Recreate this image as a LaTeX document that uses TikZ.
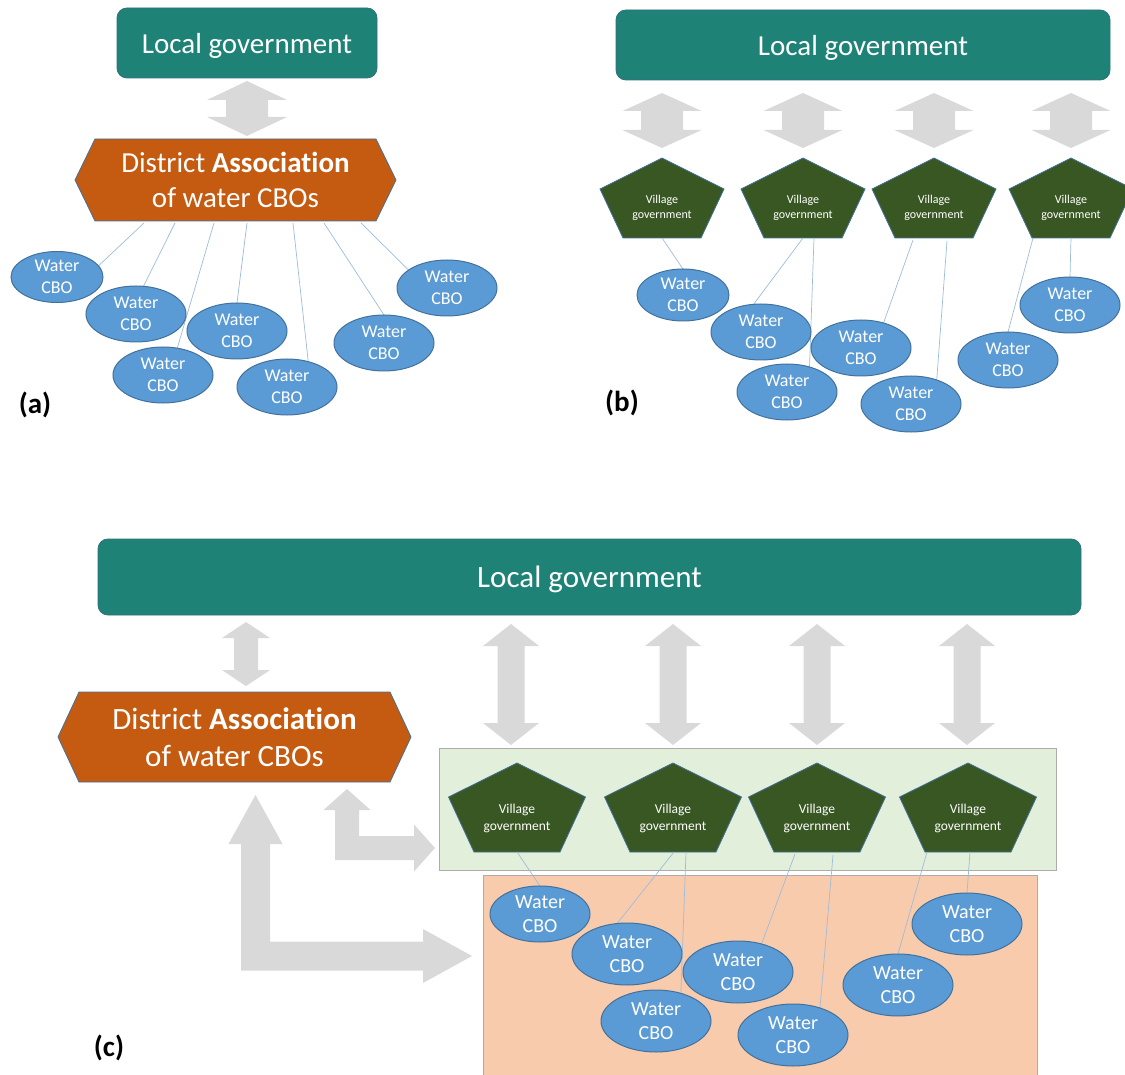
\documentclass[tikz,border=0pt]{standalone}
\usepackage{fontspec}
\setmainfont{Carlito}[Ligatures=NoCommon]
\usetikzlibrary{calc,shapes.geometric}

\pgfdeclarelayer{back}
\pgfdeclarelayer{links}
\pgfsetlayers{back,links,main}

\definecolor{lgteal}{RGB}{31,130,118}
\definecolor{lgedge}{RGB}{46,112,128}
\definecolor{dacolor}{RGB}{197,90,17}
\definecolor{shapeedge}{RGB}{65,113,156}
\definecolor{vgreen}{RGB}{56,87,35}
\definecolor{cboblue}{RGB}{91,155,213}
\definecolor{arrowgray}{RGB}{217,217,217}
\definecolor{greenbg}{RGB}{226,239,218}
\definecolor{peachbg}{RGB}{248,203,173}
\definecolor{boxedge}{RGB}{175,171,171}
\definecolor{linkblue}{RGB}{157,188,220}

\tikzset{
  lgbox/.style={rectangle, rounded corners=10pt, fill=lgteal, draw=lgedge, line width=0.8pt, text=white, text depth=0pt, inner sep=0pt, outer sep=0pt},
  dabox/.style={inner sep=0pt, outer sep=0pt, text=white, align=center},
  dashape/.style={fill=dacolor, draw=shapeedge, line width=0.8pt},
  vgbox/.style={inner sep=0pt, outer sep=0pt, text=white, align=center},
  vgshape/.style={fill=vgreen, draw=shapeedge, line width=0.8pt},
  cbo/.style={ellipse, fill=cboblue, draw=shapeedge, line width=1pt, text=white, align=center, inner sep=0pt, outer sep=0pt},
  cboA/.style={cbo, minimum width=100pt, minimum height=56pt, font={\fontsize{18}{22}\selectfont}},
  cboC/.style={cbo, minimum width=110pt, minimum height=62pt, font={\fontsize{20}{24}\selectfont}},
  link/.style={draw=linkblue, line width=0.7pt},
  grpbox/.style={rectangle, draw=boxedge, line width=0.8pt, inner sep=0pt, outer sep=0pt},
  panel/.style={font={\fontsize{29}{33}\selectfont\bfseries}}
}

% hexagon behind a node: node, tip inset
\newcommand{\hexpath}[2]{\filldraw[dashape] (#1.west) -- ($(#1.north west)+(#2,0)$) -- ($(#1.north east)+(-#2,0)$)
  -- (#1.east) -- ($(#1.south east)+(-#2,0)$) -- ($(#1.south west)+(#2,0)$) -- cycle;}
% pentagon behind a node: node, height, side corner above base, base inset
\newcommand{\pentpath}[4]{\filldraw[vgshape] ($(#1.south)+(0,-#2)$) -- ($(#1.south east)+(0,-#3)$)
  -- ($(#1.south east)+(-#4,0)$) -- ($(#1.south west)+(#4,0)$) -- ($(#1.south west)+(0,-#3)$) -- cycle;}
% vertical double arrow: top tip, bottom tip, head half width, shaft half width, head length
\newcommand{\fatarrow}[5]{\fill[arrowgray] let \p1=(#1), \p2=(#2) in
  (\x1,\y1) -- (\x1+#3pt,\y1-#5pt) -- (\x1+#4pt,\y1-#5pt) -- (\x1+#4pt,\y2+#5pt) -- (\x1+#3pt,\y2+#5pt)
  -- (\x1,\y2) -- (\x1-#3pt,\y2+#5pt) -- (\x1-#4pt,\y2+#5pt) -- (\x1-#4pt,\y1-#5pt) -- (\x1-#3pt,\y1-#5pt) -- cycle;}
% bent double arrow: up tip, right tip, head half width, shaft half width, head length
\newcommand{\bentarrow}[5]{\fill[arrowgray] let \p1=(#1), \p2=(#2) in
  (\x1,\y1) -- (\x1+#3pt,\y1-#5pt) -- (\x1+#4pt,\y1-#5pt) -- (\x1+#4pt,\y2+#4pt) -- (\x2-#5pt,\y2+#4pt)
  -- (\x2-#5pt,\y2+#3pt) -- (\x2,\y2) -- (\x2-#5pt,\y2-#3pt) -- (\x2-#5pt,\y2-#4pt) -- (\x1-#4pt,\y2-#4pt)
  -- (\x1-#4pt,\y1-#5pt) -- (\x1-#3pt,\y1-#5pt) -- cycle;}

\begin{document}
\begin{tikzpicture}[x=1pt, y=-1pt]
    \useasboundingbox (0,0) rectangle (1125,1075);

    % (a) one district association
    \node[lgbox, minimum width=260pt, minimum height=70pt, font={\fontsize{29}{35}\selectfont}] (lgA) at (247,43) {Local government};
    \node[dabox, minimum width=321pt, minimum height=82pt, font={\fontsize{29}{35}\selectfont}] (daA) at (235.5,180) {District \textbf{Association}\\of water CBOs};
    \begin{pgfonlayer}{back}
        \hexpath{daA}{20}
    \end{pgfonlayer}
    \fatarrow{$(lgA.south)+(0,3)$}{$(daA.north)+(0,-3)$}{40}{21}{19}
    \node[cboA, minimum width=92pt, minimum height=51pt] (cboA1) at (57,277) {Water\\CBO};
    \node[cboA] (cboA2) at (136,314) {Water\\CBO};
    \node[cboA] (cboA3) at (163,375) {Water\\CBO};
    \node[cboA] (cboA4) at (237,331) {Water\\CBO};
    \node[cboA] (cboA5) at (287,387) {Water\\CBO};
    \node[cboA] (cboA6) at (384,343) {Water\\CBO};
    \node[cboA] (cboA7) at (447,288) {Water\\CBO};
    \begin{pgfonlayer}{links}
        \draw[link] ($(daA.south)+(-91.5,2)$) -- (cboA1.15);
        \draw[link] ($(daA.south)+(-60.5,2)$) -- (cboA2.75);
        \draw[link] ($(daA.south)+(-21.5,2)$) -- (cboA3.62);
        \draw[link] ($(daA.south)+(11.5,2)$) -- (cboA4.north);
        \draw[link] ($(daA.south)+(57.5,2)$) -- (cboA5.50);
        \draw[link] ($(daA.south)+(88.5,2)$) -- (cboA6.north);
        \draw[link] ($(daA.south)+(125.5,2)$) -- (cboA7.155);
    \end{pgfonlayer}
    \node[panel] (labA) at (35,405) {(a)};

    % (b) village governments
    \node[lgbox, minimum width=494pt, minimum height=70pt, font={\fontsize{29}{35}\selectfont}] (lgB) at (863,45) {Local government};
    \foreach \i/\cx in {1/662, 2/803, 3/934, 4/1071} {
        \node[vgbox, minimum width=124pt, minimum height=61pt, font={\fontsize{12}{15}\selectfont}] (vgB\i) at (\cx,207.5) {Village\\government};
        \begin{pgfonlayer}{back}
            \pentpath{vgB\i}{80}{49}{23}
        \end{pgfonlayer}
        \fatarrow{$(lgB.south -| vgB\i.north)+(0,13)$}{$(vgB\i.north)+(0,-29)$}{39.5}{21}{18}
    }
    \node[cboA, minimum width=92pt, minimum height=52pt] (cboB1) at (683,295) {Water\\CBO};
    \node[cboA] (cboB2) at (761,332) {Water\\CBO};
    \node[cboA] (cboB3) at (787,392) {Water\\CBO};
    \node[cboA] (cboB4) at (861,348) {Water\\CBO};
    \node[cboA] (cboB5) at (911,404) {Water\\CBO};
    \node[cboA] (cboB6) at (1008,360) {Water\\CBO};
    \node[cboA] (cboB7) at (1070,305) {Water\\CBO};
    \begin{pgfonlayer}{links}
        \draw[link] (vgB1.south) -- (cboB1.north);
        \draw[link] (vgB2.south) -- (cboB2.105);
        \draw[link] ($(vgB2.south)+(11,0)$) -- (cboB3.48);
        \draw[link] ($(vgB3.south)+(-21,2)$) -- (cboB4.48);
        \draw[link] ($(vgB3.south)+(13,3)$) -- (cboB5.43);
        \draw[link] ($(vgB4.south)+(-38,0)$) -- (cboB6.north);
        \draw[link] (vgB4.south) -- (cboB7.north);
    \end{pgfonlayer}
    \node[panel] (labB) at (622,403) {(b)};

    % (c) both together
    \begin{pgfonlayer}{back}
        \node[grpbox, fill=greenbg, minimum width=617pt, minimum height=122pt] (vgrp) at (747.5,809) {};
        \node[grpbox, fill=peachbg, minimum width=554pt, minimum height=205pt] (cgrp) at (760,977.5) {};
    \end{pgfonlayer}
    \node[lgbox, minimum width=983pt, minimum height=76pt, font={\fontsize{31}{37}\selectfont}] (lgC) at (589.5,577) {Local government};
    \node[dabox, minimum width=353pt, minimum height=90pt, font={\fontsize{31}{37}\selectfont}] (daC) at (234.5,737) {District \textbf{Association}\\of water CBOs};
    \begin{pgfonlayer}{back}
        \hexpath{daC}{21}
    \end{pgfonlayer}
    \fatarrow{$(lgC.south -| daC.north)+(11.5,7)$}{$(daC.north)+(0,-6)$}{24}{12}{16}
    \foreach \i/\cx/\dx in {1/517/-6, 2/673/0, 3/817/0, 4/968/-1} {
        \node[vgbox, minimum width=137pt, minimum height=67pt, font={\fontsize{13.5}{16.5}\selectfont}] (vgC\i) at (\cx,818.5) {Village\\government};
        \begin{pgfonlayer}{back}
            \pentpath{vgC\i}{89}{55}{25.5}
        \end{pgfonlayer}
        \fatarrow{$(lgC.south -| vgC\i.north)+(\dx,9)$}{$(vgC\i.north)+(0,-40)$}{28}{13.5}{22}
    }
    \bentarrow{$(daC.south)+(112.5,7)$}{$(vgrp.west)+(-4,39)$}{23.5}{12}{21}
    \bentarrow{$(daC.south)+(21,13)$}{$(cgrp.west)+(-11,-21.5)$}{27}{14.5}{49}
    \node[cboC, minimum width=100pt, minimum height=56pt] (cboC1) at (540,914) {Water\\CBO};
    \node[cboC] (cboC2) at (627,954) {Water\\CBO};
    \node[cboC] (cboC3) at (656,1021) {Water\\CBO};
    \node[cboC] (cboC4) at (738,972) {Water\\CBO};
    \node[cboC] (cboC5) at (793,1035) {Water\\CBO};
    \node[cboC] (cboC6) at (898,985) {Water\\CBO};
    \node[cboC] (cboC7) at (967,924) {Water\\CBO};
    \begin{pgfonlayer}{links}
        \draw[link] (vgC1.south) -- (cboC1.north);
        \draw[link] ($(vgC2.south)+(1,0)$) -- (cboC2.108);
        \draw[link] ($(vgC2.south)+(13,0)$) -- (cboC3.48);
        \draw[link] ($(vgC3.south)+(-22,2)$) -- (cboC4.50);
        \draw[link] ($(vgC3.south)+(16,3)$) -- (cboC5.45);
        \draw[link] ($(vgC4.south)+(-41,0)$) -- (cboC6.north);
        \draw[link] ($(vgC4.south)+(2,0)$) -- (cboC7.north);
    \end{pgfonlayer}
    \node[panel] (labC) at (109,1048) {(c)};
\end{tikzpicture}
\end{document}
